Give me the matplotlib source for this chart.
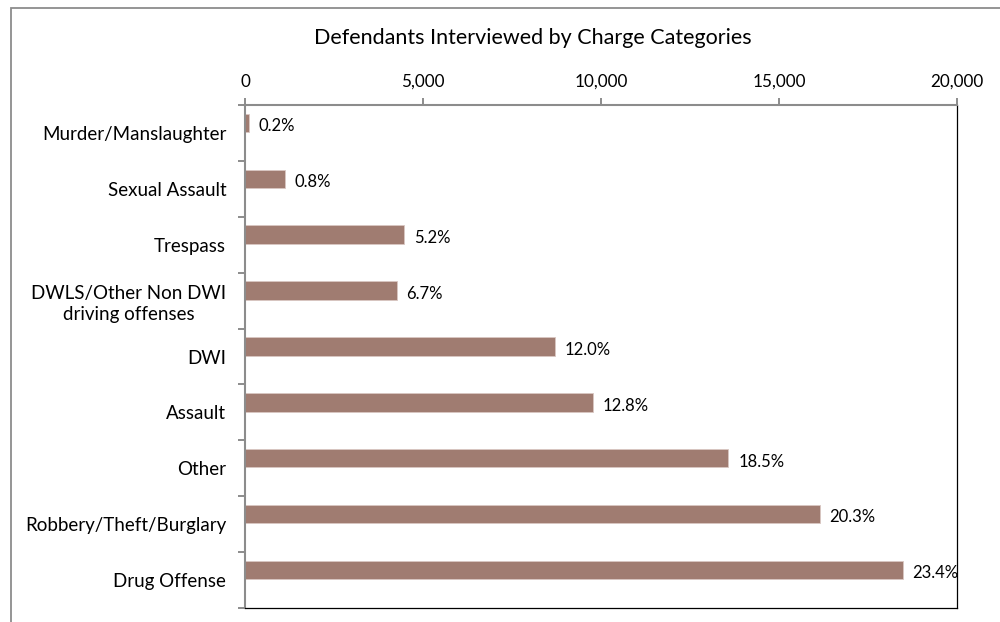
import matplotlib
matplotlib.use("Agg")
import matplotlib.pyplot as plt
from matplotlib.patches import Rectangle
from matplotlib.ticker import FuncFormatter

plt.rcParams['font.family'] = ['Lato', 'DejaVu Sans']

categories = ["Murder/Manslaughter", "Sexual Assault", "Trespass",
              "DWLS/Other Non DWI\ndriving offenses", "DWI", "Assault",
              "Other", "Robbery/Theft/Burglary", "Drug Offense"]
values = [120, 1120, 4480, 4260, 8710, 9780, 13580, 16150, 18480]
pct_labels = ["0.2%", "0.8%", "5.2%", "6.7%", "12.0%", "12.8%",
              "18.5%", "20.3%", "23.4%"]
xticks = [0, 5000, 10000, 15000, 20000]
title = "Defendants Interviewed by Charge Categories"

W, H = 1000, 622
fig = plt.figure(figsize=(W / 100, H / 100), dpi=100)
fig.patch.set_facecolor("white")

# outer chart border (extends past right/bottom edges)
fig.add_artist(Rectangle((11 / W, -0.05), 1.2, 1 - 7.5 / H + 0.05,
                         transform=fig.transFigure, fill=False,
                         edgecolor="#8c8c8c", linewidth=1.3))

ax = fig.add_axes([245 / W, 1 - 608 / H, (957 - 245) / W, (608 - 105) / H])

pos = list(range(len(categories)))
bar_pos = [p - 0.18 for p in pos]
ax.barh(bar_pos, values, height=0.33, color="#A07C71",
        edgecolor="#D9C7C2", linewidth=0.6, zorder=2)

for y, v, lab in zip(bar_pos, values, pct_labels):
    ax.annotate(lab, (v, y + 0.06), xytext=(7, 0), textcoords="offset points",
                ha="left", va="center", fontsize=12, color="black",
                clip_on=False, zorder=3)

ax.set_xlim(0, 20000)
ax.set_ylim(len(categories) - 0.5, -0.5)

ax.xaxis.tick_top()
ax.set_xticks(xticks)
ax.xaxis.set_major_formatter(FuncFormatter(lambda x, p: f"{int(x):,}"))
ax.tick_params(axis="x", which="major", direction="out", length=5, width=1.4,
               color="#8c8c8c", labelsize=12.3, pad=6)

ax.set_yticks([p - 0.5 for p in pos] + [len(categories) - 0.5])
ax.set_yticklabels([])
ax.set_yticks(pos, minor=True)
ax.set_yticklabels(categories, minor=True, fontsize=13.5, linespacing=1.3)
ax.tick_params(axis="y", which="major", direction="out", length=5, width=1.4,
               color="#8c8c8c")
ax.tick_params(axis="y", which="minor", length=0, pad=13.5)
for t in ax.get_yticklabels(minor=True):
    t.set_horizontalalignment("right")
    t.set_multialignment("center")

for s in ["left", "top"]:
    ax.spines[s].set_color("#8c8c8c")
    ax.spines[s].set_linewidth(1.5)
for s in ["right", "bottom"]:
    ax.spines[s].set_color("black")
    ax.spines[s].set_linewidth(0.9)

fig.text(533 / W, 1 - 38 / H, title, ha="center", va="center", fontsize=15.5)

fig.savefig("out.png", dpi=100)
